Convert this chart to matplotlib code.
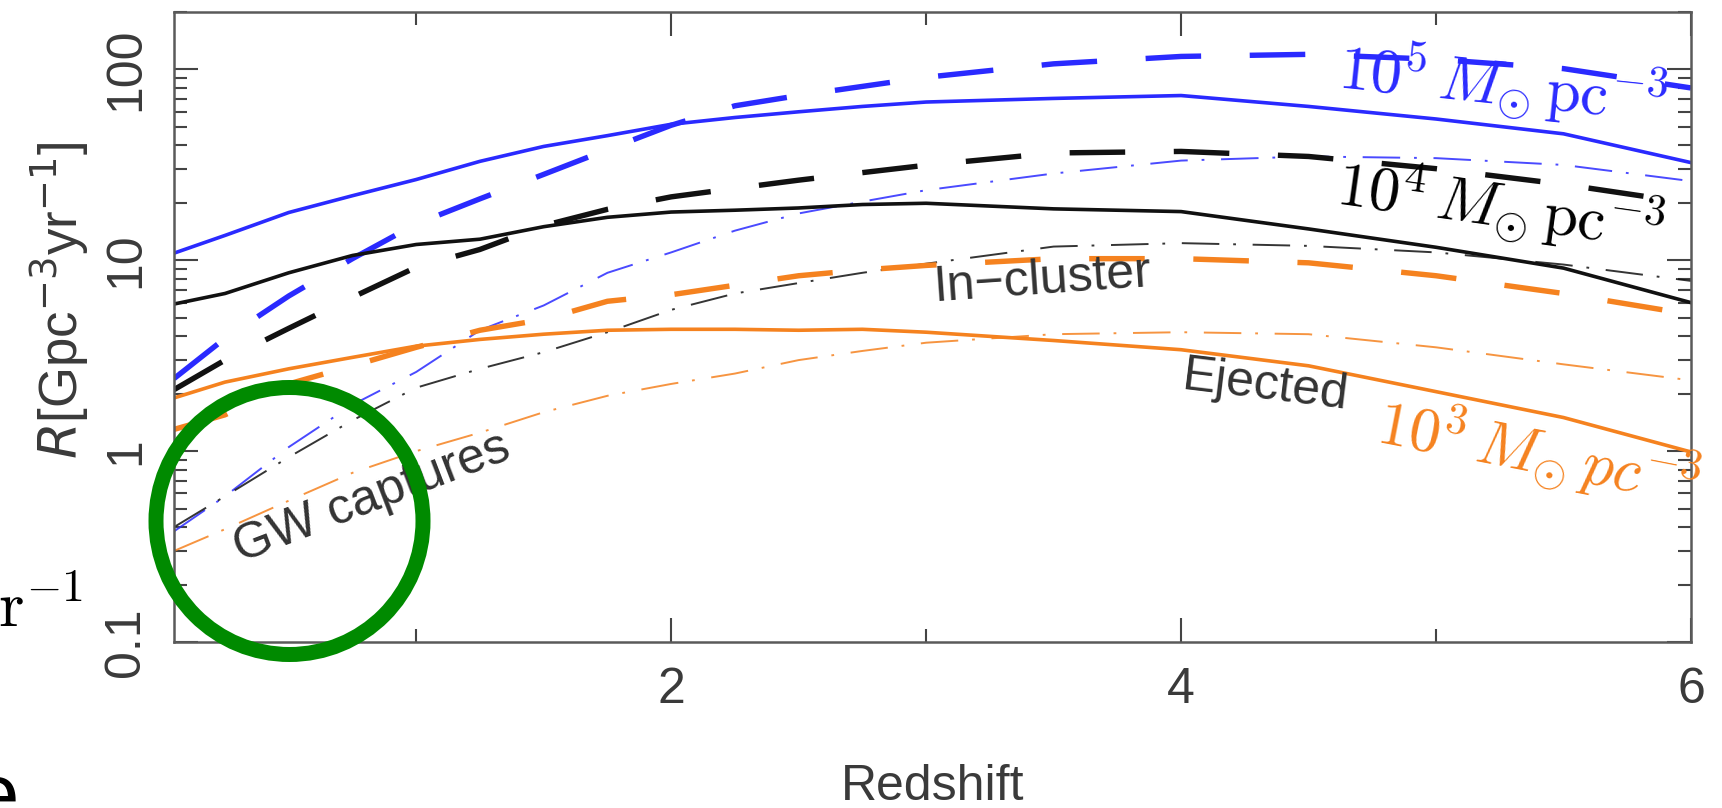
import numpy as np
import matplotlib
matplotlib.use("Agg")
import matplotlib.pyplot as plt
from matplotlib.patches import Ellipse
from matplotlib.ticker import FixedLocator, NullFormatter, LogLocator

plt.rcParams['font.family'] = ['Liberation Sans', 'DejaVu Sans']
plt.rcParams['lines.scale_dashes'] = False
plt.rcParams['mathtext.fontset'] = 'dejavusans'

# redshift grid the curves were read on
z = [0.05, 0.25, 0.5, 0.75, 1.0, 1.25, 1.5, 1.75, 2.0, 2.25, 2.5, 2.75, 3.0, 3.5, 4.0, 4.5, 5.0, 5.5, 6.0]

# 10^5 Msun pc^-3
blue_solid = [10.9, 13.5, 17.8, 21.8, 26.5, 33, 39.5, 45, 51.6, 56, 60, 64, 67.5, 70.5, 73, 64, 55, 46, 32.5]
blue_dashed = [2.4, 3.9, 6.5, 10.2, 15.5, 21, 28.2, 38, 51, 64.5, 73, 81.5, 91, 107, 117, 120, 113, 101, 80]
blue_dashdot = [0.38, 0.58, 1.05, 1.75, 2.6, 4.3, 5.8, 8.6, 11.0, 14.3, 17.6, 20.3, 23.3, 28.5, 33.3, 35, 34.3, 31.6, 26]

# 10^4 Msun pc^-3
black_solid = [5.9, 6.7, 8.6, 10.6, 12.1, 12.9, 15.0, 16.8, 17.9, 18.3, 18.8, 19.6, 19.9, 18.6, 18.0, 14.6, 11.7, 9.1, 6.0]
black_dashed = [2.1, 3.0, 4.4, 6.4, 9.2, 11.4, 15.2, 18.5, 21.5, 23.8, 26.3, 28.8, 31.5, 36.5, 37.2, 35.0, 30.2, 25.0, 19.9]
black_dashdot = [0.4, 0.58, 0.93, 1.45, 2.15, 2.7, 3.3, 4.2, 5.5, 6.7, 7.6, 8.6, 9.6, 11.8, 12.3, 11.9, 11.0, 9.5, 7.8]

# 10^3 Msun pc^-3
orange_solid = [1.9, 2.3, 2.7, 3.1, 3.55, 3.85, 4.1, 4.3, 4.35, 4.35, 4.3, 4.35, 4.2, 3.8, 3.4, 2.8, 2.05, 1.5, 0.99]
orange_dashed = [1.3, 1.55, 2.25, 2.8, 3.5, 4.3, 4.9, 6.1, 6.6, 7.4, 8.3, 8.9, 9.4, 10.2, 10.2, 9.7, 8.3, 6.7, 5.2]
orange_dashdot = [0.3, 0.39, 0.55, 0.77, 1.0, 1.25, 1.6, 1.95, 2.25, 2.55, 3.0, 3.35, 3.7, 4.1, 4.2, 4.1, 3.5, 2.85, 2.35]

x_major = [2, 4, 6]
x_minor = [1, 3, 5]
y_major = [0.1, 1, 10, 100]
y_labels = ['0.1', '1', '10', '100']

BLUE = '#2a2aff'
BLACK = '#111111'
ORANGE = '#f5821f'
GRAY = '#3a3a3a'

W, H = 1722, 808
fig = plt.figure(figsize=(W / 100, H / 100), dpi=100)
ax = fig.add_axes([174 / W, 166 / H, (1691 - 174) / W, (642 - 12) / H])

dash = (0, (40, 35))
dashdot = (0, (27, 10, 2, 12))

# solid, dashed and thin dash-dot families
for col, s, d, dd in [(BLUE, blue_solid, blue_dashed, blue_dashdot),
                      (BLACK, black_solid, black_dashed, black_dashdot),
                      (ORANGE, orange_solid, orange_dashed, orange_dashdot)]:
    ax.plot(z, s, color=col, lw=2.6, solid_joinstyle='round')
    ax.plot(z, d, color=col, lw=3.9, linestyle=dash)
    ax.plot(z, dd, color=col, lw=1.4, linestyle=dashdot, alpha=0.85)

ax.set_yscale('log')
ax.set_xlim(0.05, 6)
ax.set_ylim(0.1, 200)

ax.xaxis.set_major_locator(FixedLocator(x_major))
ax.xaxis.set_minor_locator(FixedLocator(x_minor))
ax.set_xticklabels([str(v) for v in x_major])
ax.yaxis.set_major_locator(FixedLocator(y_major))
ax.yaxis.set_minor_locator(LogLocator(base=10, subs=np.arange(2, 10)))
ax.yaxis.set_minor_formatter(NullFormatter())
ax.set_yticklabels(y_labels, rotation=90, va='center')

ax.tick_params(which='both', direction='in', top=True, right=True, color='#444444', width=1.5)
ax.tick_params(which='major', length=17, labelsize=36, labelcolor=GRAY, pad=18)
ax.tick_params(which='minor', length=9.5)
ax.tick_params(axis='y', which='major', pad=18)
for sp in ax.spines.values():
    sp.set_color('#5a5a5a')
    sp.set_linewidth(1.8)

# axis labels
fig.text(933 / W, 1 - 800 / H, 'Redshift', fontsize=36, color=GRAY, ha='center', va='baseline')
fig.text(78 / W, 1 - 300 / H, r'$R$[Gpc$^{-3}$yr$^{-1}$]', fontsize=38, color=GRAY,
         rotation=90, rotation_mode='anchor', ha='center', va='baseline')

# density labels
def px(x, y):
    return ax.transAxes.inverted().transform(fig.transFigure.transform((x / W, 1 - y / H)))

for txt, col, (cx, cy), rot in [(r'$10^5\,M_{\odot}\,\mathrm{pc}^{-3}$', BLUE, (1503, 85), -6),
                                (r'$10^4\,M_{\odot}\,\mathrm{pc}^{-3}$', 'black', (1500, 208), -8),
                                (r'$10^3\,M_{\odot}\,pc^{-3}$', ORANGE, (1538, 455), -11)]:
    p = px(cx, cy)
    ax.text(p[0], p[1], txt, color=col, fontsize=45, transform=ax.transAxes, math_fontfamily='cm',
            rotation=rot, rotation_mode='anchor', ha='center', va='center', clip_on=False)

for txt, (cx, cy), rot in [('In\u2212cluster', (1042, 280), 4),
                           ('Ejected', (1265, 386), -7),
                           ('GW captures', (372, 498), 21)]:
    p = px(cx, cy)
    ax.text(p[0], p[1], txt, color='#333333', fontsize=36, transform=ax.transAxes,
            rotation=rot, rotation_mode='anchor', ha='center', va='center')

# slide fragments around the figure
fig.text(-2 / W, 1 - 627 / H, r'$\mathrm{r}^{-1}$', fontsize=47, color='black', math_fontfamily='cm',
         ha='left', va='baseline')
fig.text(19 / W, 1 - 822 / H, 'e', fontsize=60, color='black', ha='right', va='baseline')

# green highlight circle
circ = Ellipse((289.5 / W, 1 - 521 / H), 267 / W, 267 / H, transform=fig.transFigure,
               fill=False, edgecolor='#008a00', lw=10.8, zorder=10)
fig.add_artist(circ)

fig.savefig('out.png', dpi=100)
